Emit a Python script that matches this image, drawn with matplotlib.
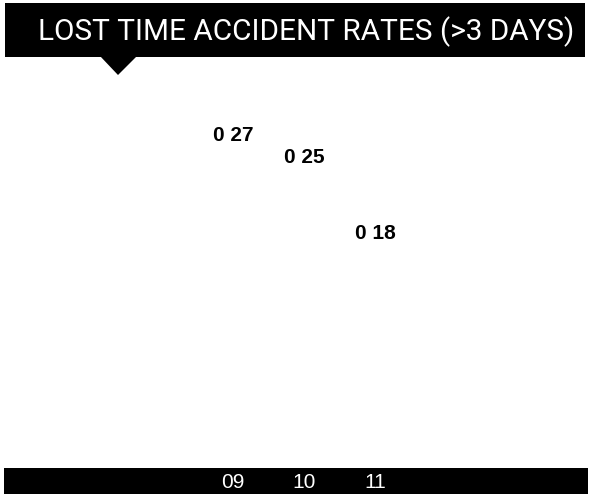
import matplotlib
matplotlib.use("Agg")
import matplotlib.pyplot as plt
from matplotlib.patches import Rectangle, Polygon

# ===== data =====
years = ["09", "10", "11"]
rates = [0.27, 0.25, 0.18]
rate_labels = ["0 27", "0 25", "0 18"]
title = "LOST TIME ACCIDENT RATES (>3 DAYS)"
# ================

W, H = 590, 494
plt.rcParams['font.family'] = ['Liberation Sans', 'DejaVu Sans']

fig = plt.figure(figsize=(W / 100, H / 100), dpi=100)
fig.patch.set_facecolor('white')


def fx(px):
    return px / W


def fy(py):
    return 1 - py / H


# title banner + pointer
fig.add_artist(Rectangle((fx(5), fy(57)), fx(580), 54 / H, transform=fig.transFigure,
                         facecolor='black', edgecolor='none'))
fig.add_artist(Polygon([(fx(100), fy(56)), (fx(137), fy(56)), (fx(118), fy(75))],
                       closed=True, transform=fig.transFigure,
                       facecolor='black', edgecolor='none'))
t = fig.text(fx(38), fy(32), title, color='white', fontsize=21,
             family=['Roboto', 'Liberation Sans'],
             ha='left', va='center')
# fit title to roughly the same width as in the scan (~536 px)
r = fig.canvas.get_renderer()
tw = t.get_window_extent(renderer=r).width
t.set_fontsize(21 * 536 / tw)

# main plot area (bars are white, only values show)
ax = fig.add_axes([fx(4), fy(440), fx(584), 383 / H])
x = list(range(len(years)))
bars = ax.bar(x, rates, width=0.6, color='white')
ax.bar_label(bars, labels=rate_labels, padding=1, fontsize=15, fontweight='bold')
ax.set_xlim(-3.225, 5.0)
ax.set_ylim(0, 0.352)
ax.axis('off')

# bottom black strip with year labels
bax = fig.add_axes([fx(4), 0, fx(584), 26 / H], sharex=ax)
bax.set_facecolor('black')
for xi, yr in zip(x, years):
    bax.text(xi, 0.45, yr, transform=bax.get_xaxis_transform(), color='white',
             fontsize=15, ha='center', va='center')
bax.set_ylim(0, 1)
bax.set_xticks([])
bax.set_yticks([])
for s in bax.spines.values():
    s.set_visible(False)

fig.savefig("out.png", dpi=100, facecolor='white')
